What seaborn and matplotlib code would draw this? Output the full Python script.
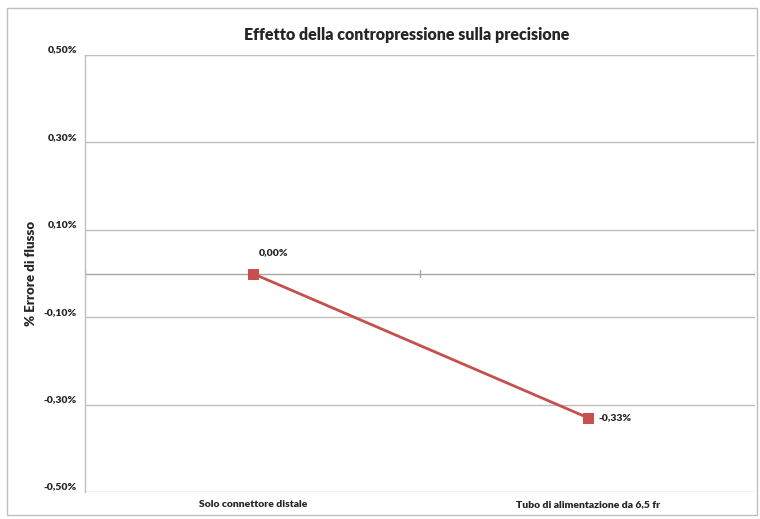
import matplotlib
matplotlib.use("Agg")
import matplotlib.pyplot as plt
import matplotlib.transforms as mtransforms
from matplotlib.patches import Rectangle
import seaborn as sns
import pandas as pd

categories = ["Solo connettore distale", "Tubo di alimentazione da 6,5 fr"]
values = [0.00, -0.33]
value_labels = ["0,00%", "-0,33%"]
ytick_values = [0.5, 0.3, 0.1, -0.1, -0.3, -0.5]
ytick_labels = ["0,50%", "0,30%", "0,10%", "-0,10%", "-0,30%", "-0,50%"]

sns.set_style("white")
plt.rcParams["font.family"] = ["Lato", "DejaVu Sans"]

df = pd.DataFrame({"cat": categories, "val": values, "x": [0, 1]})

fig = plt.figure(figsize=(7.6, 5.19), dpi=100)
ax = fig.add_axes([0.112, 0.052, 0.882, 0.842])

# outer chart border
fig.patches.append(Rectangle((0.009, 0.008), 0.987, 0.977, transform=fig.transFigure,
                             fill=False, edgecolor="#BFBFBF", linewidth=1.0))

for v in ytick_values:
    ax.axhline(v, color="#BFBFBF", linewidth=1.0, zorder=0)
ax.axhline(0, color="#A6A6A6", linewidth=1.0, zorder=1)

sns.lineplot(data=df, x="x", y="val", ax=ax, color="#C5504D", linewidth=2.0,
             marker="s", markersize=7.5, markeredgecolor="#C5504D", zorder=3)

ax.set_xlim(-0.5, 1.5)
ax.set_ylim(-0.5, 0.5)
ax.set_xticks([0, 1])
ax.set_xticklabels(categories, fontsize=7.5, fontweight="heavy")
ax.tick_params(axis="x", length=0, pad=6)
ax.set_yticks(ytick_values)
ax.set_yticklabels(ytick_labels, fontsize=7.5, fontweight="heavy")
ax.tick_params(axis="y", length=0, pad=6)
offset = mtransforms.ScaledTranslation(0, 6 / 100, fig.dpi_scale_trans)
for lab in ax.get_yticklabels():
    lab.set_transform(lab.get_transform() + offset)

for s in ["top", "right", "bottom"]:
    ax.spines[s].set_visible(False)
ax.spines["left"].set_color("#BFBFBF")
ax.spines["left"].set_linewidth(1.0)

# small tick marks on the zero line
for xt in [-0.5, 0.5, 1.5]:
    ax.plot([xt, xt], [-0.008, 0.008], color="#A6A6A6", linewidth=1.0, zorder=1)

ax.annotate(value_labels[0], (0, values[0]), xytext=(4, 12), textcoords="offset points",
            fontsize=7.5, fontweight="heavy", ha="left", va="bottom")
ax.annotate(value_labels[1], (1, values[1]), xytext=(8, 0), textcoords="offset points",
            fontsize=7.5, fontweight="heavy", ha="left", va="center")

ax.set_xlabel("")
ax.set_ylabel("% Errore di flusso", fontsize=9.5, fontweight="heavy")
ax.yaxis.set_label_coords(-0.072, 0.5)
fig.text(0.535, 0.932, "Effetto della contropressione sulla precisione",
         ha="center", va="center", fontsize=11.5, fontweight="heavy")

fig.savefig("out.png", dpi=100)
